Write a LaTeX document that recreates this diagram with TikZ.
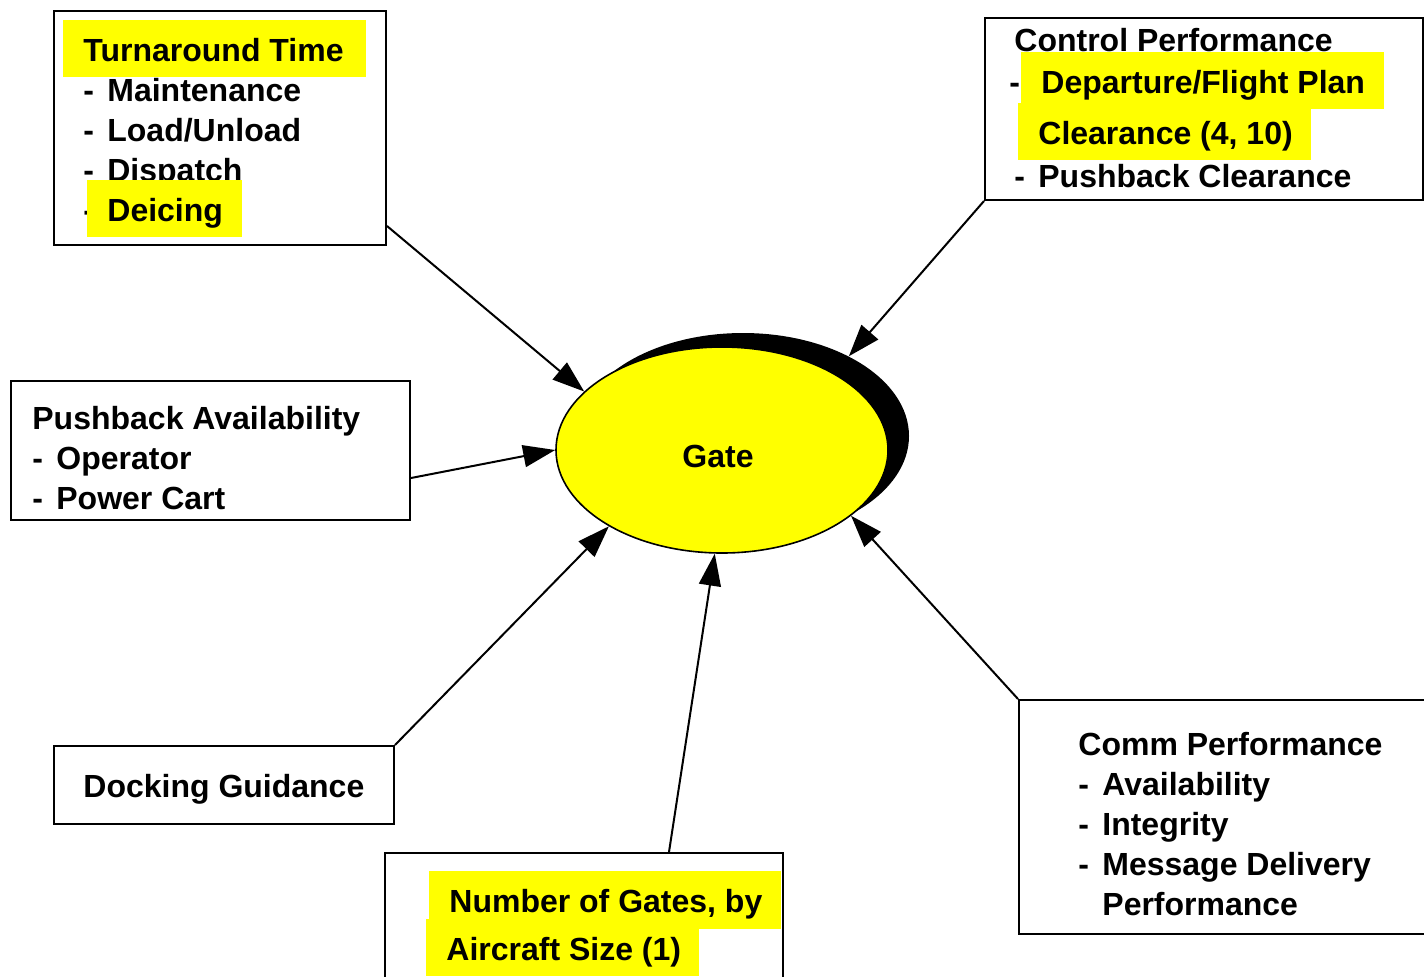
\documentclass[tikz,border=0pt]{standalone}
\usepackage{fontspec}
\setmainfont{Liberation Sans}
\usetikzlibrary{arrows.meta,shapes.geometric,calc}
\definecolor{marker}{RGB}{255,255,0}
\newcommand\itemdash{\makebox[12pt][l]{-}}
\begin{document}
\begin{tikzpicture}[x=0.5pt,y=-0.5pt,
  box/.style={draw=black,line width=1pt,inner sep=0pt,anchor=north west},
  lbl/.style={anchor=base west,inner sep=0pt,font=\fontsize{16pt}{20pt}\selectfont\bfseries},
  hl/.style={fill=marker},
  oval/.style={ellipse,inner sep=0pt,minimum width=166pt,minimum height=103pt},
  link/.style={line width=1pt,-{Triangle[length=16pt,width=11pt]}}]
\clip (0,0) rectangle (1424,976);

% central element with its drop shadow
\node[oval,fill=black] (gateshade) at (743,436) {};
\node[oval,fill=marker,draw=black,line width=0.8pt] (gate) at (722,450) {};
\node[lbl,anchor=base] (gatelbl) at (718,467) {Gate};

% frames
\node[box,minimum width=166pt,minimum height=117pt] (tl) at (53,10) {};
\node[box,minimum width=219pt,minimum height=91pt] (tr) at (984,17) {};
\node[box,minimum width=199.5pt,minimum height=69.5pt] (pb) at (10,380) {};
\node[box,minimum width=170pt,minimum height=39pt] (dg) at (53,745) {};
\node[box,minimum width=199pt,minimum height=80pt] (ng) at (384,852) {};
\node[box,minimum width=220pt,minimum height=117pt] (cp) at (1018,699) {};

% turnaround time
\fill[hl] (63,20) rectangle (366,77);
\node[lbl] (tl1) at (83,61) {Turnaround Time};
\node[lbl] (tl2) at (83,101) {\itemdash Maintenance};
\node[lbl] (tl3) at (83,141) {\itemdash Load/Unload};
\node[lbl] (tl4) at (83,181) {\itemdash Dispatch};
\node[lbl] (tl5a) at (83,221) {-};
\fill[hl] (87,180) rectangle (242,237);
\node[lbl] (tl5) at (107,221) {Deicing};

% control performance
\node[lbl] (tr1) at (1014,51) {Control Performance};
\fill[hl] (1021,52) rectangle (1384,109);
\fill[hl] (1018,103) rectangle (1311,160);
\node[lbl] (tr2a) at (1009,93) {-};
\node[lbl] (tr2) at (1041,93) {Departure/Flight Plan};
\node[lbl] (tr3) at (1038,144) {Clearance (4, 10)};
\node[lbl] (tr4) at (1014,187) {\itemdash Pushback Clearance};

% pushback availability
\node[lbl] (pb1) at (32,429) {Pushback Availability};
\node[lbl] (pb2) at (32,469) {\itemdash Operator};
\node[lbl] (pb3) at (32,509) {\itemdash Power Cart};

% docking guidance
\node[lbl] (dg1) at (83,797) {Docking Guidance};

% number of gates
\fill[hl] (429,871) rectangle (781,929);
\fill[hl] (426,919) rectangle (699,976);
\node[lbl] (ng1) at (449,912) {Number of Gates, by};
\node[lbl] (ng2) at (446,960) {Aircraft Size (1)};

% comm performance
\node[lbl] (cp1) at (1078,755) {Comm Performance};
\node[lbl] (cp2) at (1078,795) {\itemdash Availability};
\node[lbl] (cp3) at (1078,835) {\itemdash Integrity};
\node[lbl] (cp4) at (1078,875) {\itemdash Message Delivery};
\node[lbl] (cp5) at (1102,915) {Performance};

% influences on the gate
\draw[link] ($(tl.south east)+(0,-20)$) -- (gate.157.8);
\draw[link] (tr.south west) -- (gateshade.37.6);
\draw[link] ($(pb.south east)+(0,-43)$) -- (gate.west);
\draw[link] (dg.north east) -- (gate.214.4);
\draw[link] ($(ng.north west)+(285,0)$) -- (gate.266.8);
\draw[link] (cp.north west) -- (gate.-27.4);
\end{tikzpicture}
\end{document}
